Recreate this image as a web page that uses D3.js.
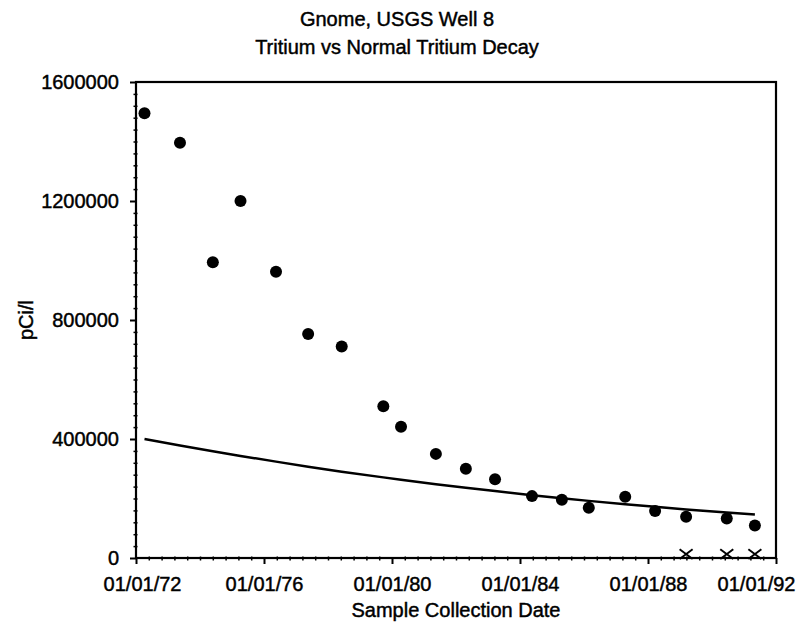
<!DOCTYPE html>
<html>
<head>
<meta charset="utf-8">
<script src="https://cdn.jsdelivr.net/npm/d3@7"></script>
<style>
  html, body { margin: 0; padding: 0; background: #fff; }
  svg { display: block; }
  text { font-family: "Liberation Sans", Arial, Helvetica, sans-serif; fill: #000; stroke: #000; stroke-width: 0.45px; }
</style>
</head>
<body>
<svg id="chart" width="801" height="625"></svg>
<script>
// ---- data ----
const titleLines = ["Gnome, USGS Well 8", "Tritium vs Normal Tritium Decay"];
const xLabel = "Sample Collection Date";
const yLabel = "pCi/l";

const sampleDates = [
  "1972-04-07", "1973-05-17", "1974-05-27", "1975-04-08", "1976-05-17",
  "1977-05-19", "1978-06-06", "1979-09-24", "1980-04-13", "1981-05-16",
  "1982-04-23", "1983-03-22", "1984-05-17", "1985-04-23", "1986-02-24",
  "1987-04-16", "1988-03-22", "1989-03-11", "1990-06-18", "1991-05-05"
];
const tritium = [
  1495000, 1396000, 994000, 1200000, 962000,
  753000, 711000, 510000, 441000, 350000,
  300000, 265000, 208000, 196000, 169000,
  206000, 158000, 139000, 133000, 109000
];
const normalDecay = [
  400000, 378000, 359000, 343000, 324000,
  307000, 290000, 271000, 263000, 248000,
  236000, 225000, 211000, 201000, 192000,
  181000, 172000, 163000, 153000, 146000
];
const crossDates = ["1989-03-11", "1990-06-18", "1991-05-05"];
const crossValues = [13000, 13000, 13000];

const yTicks = [0, 400000, 800000, 1200000, 1600000];
const xTickDates = ["1972-01-01", "1976-01-01", "1980-01-01", "1984-01-01", "1988-01-01", "1992-01-01"];

// ---- layout ----
const parse = d3.timeParse("%Y-%m-%d");
const pL = 136, pR = 776, pT = 82, pB = 558;

const x = d3.scaleTime()
  .domain([parse("1972-01-01"), parse("1992-01-01")])
  .range([pL, pR]);
const y = d3.scaleLinear().domain([0, 1600000]).range([pB, pT]);

const svg = d3.select("#chart");

// titles
svg.selectAll("text.title").data(titleLines).join("text")
  .attr("class", "title")
  .attr("x", 397)
  .attr("y", (d, i) => 26 + i * 28)
  .attr("text-anchor", "middle")
  .attr("font-size", 20)
  .text(d => d);

// minor ticks
const yMinor = d3.range(0, 1600001, 40000).filter(v => !yTicks.includes(v));
svg.append("g")
  .attr("transform", `translate(${pL + 1.5},0)`)
  .call(d3.axisLeft(y).tickValues(yMinor).tickSize(4).tickFormat(""))
  .call(g => g.select(".domain").remove())
  .call(g => g.selectAll("line").attr("stroke-width", 1.5));

const xMajor = xTickDates.map(parse);
const xMinor = [];
for (let i = 0; i < xMajor.length - 1; i++) {
  const a = +xMajor[i], b = +xMajor[i + 1];
  for (let k = 1; k < 10; k++) xMinor.push(new Date(a + (b - a) * k / 10));
}
svg.append("g")
  .attr("transform", `translate(0,${pB - 1.5})`)
  .call(d3.axisBottom(x).tickValues(xMinor).tickSize(4).tickFormat(""))
  .call(g => g.select(".domain").remove())
  .call(g => g.selectAll("line").attr("stroke-width", 1.5));

// major axes
const yAxis = svg.append("g")
  .attr("transform", `translate(${pL},0)`)
  .call(d3.axisLeft(y).tickValues(yTicks).tickSize(6).tickPadding(11).tickFormat(d3.format("d")));
yAxis.select(".domain").remove();
yAxis.selectAll("line").attr("stroke-width", 2);
yAxis.selectAll("text").attr("font-size", 20).attr("font-family", "Liberation Sans, Arial, sans-serif").attr("fill", "#000");

const xAxis = svg.append("g")
  .attr("transform", `translate(0,${pB})`)
  .call(d3.axisBottom(x).tickValues(xMajor).tickSize(6).tickPadding(13).tickFormat(d3.timeFormat("%m/%d/%y")));
xAxis.select(".domain").remove();
xAxis.selectAll("line").attr("stroke-width", 2);
const xt = xAxis.selectAll("text").attr("font-size", 20).attr("font-family", "Liberation Sans, Arial, sans-serif").attr("fill", "#000");
xt.filter((d, i) => i === 0).attr("dx", 6);
xt.filter((d, i) => i === xMajor.length - 1).attr("dx", -20);

// frame
svg.append("rect")
  .attr("x", pL).attr("y", pT)
  .attr("width", pR - pL).attr("height", pB - pT)
  .attr("fill", "none").attr("stroke", "#000").attr("stroke-width", 2.2);

// axis labels
svg.append("text")
  .attr("x", (pL + pR) / 2).attr("y", 617)
  .attr("text-anchor", "middle").attr("font-size", 20)
  .text(xLabel);
svg.append("text")
  .attr("transform", `translate(33,${(pT + pB) / 2}) rotate(-90)`)
  .attr("text-anchor", "middle").attr("font-size", 20)
  .text(yLabel);

// decay line
const lineData = sampleDates.map((d, i) => ({ date: parse(d), v: normalDecay[i] }));
svg.append("path")
  .datum(lineData)
  .attr("fill", "none").attr("stroke", "#000").attr("stroke-width", 2.5)
  .attr("d", d3.line().x(d => x(d.date)).y(d => y(d.v)));

// tritium points
const pts = sampleDates.map((d, i) => ({ date: parse(d), v: tritium[i] }));
svg.selectAll("circle.pt").data(pts).join("circle")
  .attr("class", "pt")
  .attr("cx", d => x(d.date)).attr("cy", d => y(d.v))
  .attr("r", 6).attr("fill", "#000");

// cross markers
const crosses = crossDates.map((d, i) => ({ date: parse(d), v: crossValues[i] }));
const cs = 6.5;
svg.selectAll("path.cross").data(crosses).join("path")
  .attr("class", "cross")
  .attr("d", d => {
    const cx = x(d.date), cy = y(d.v);
    return `M${cx - cs},${cy - cs * 0.75}L${cx + cs},${cy + cs * 0.75}M${cx - cs},${cy + cs * 0.75}L${cx + cs},${cy - cs * 0.75}`;
  })
  .attr("stroke", "#000").attr("stroke-width", 2).attr("fill", "none");
</script>
</body>
</html>
